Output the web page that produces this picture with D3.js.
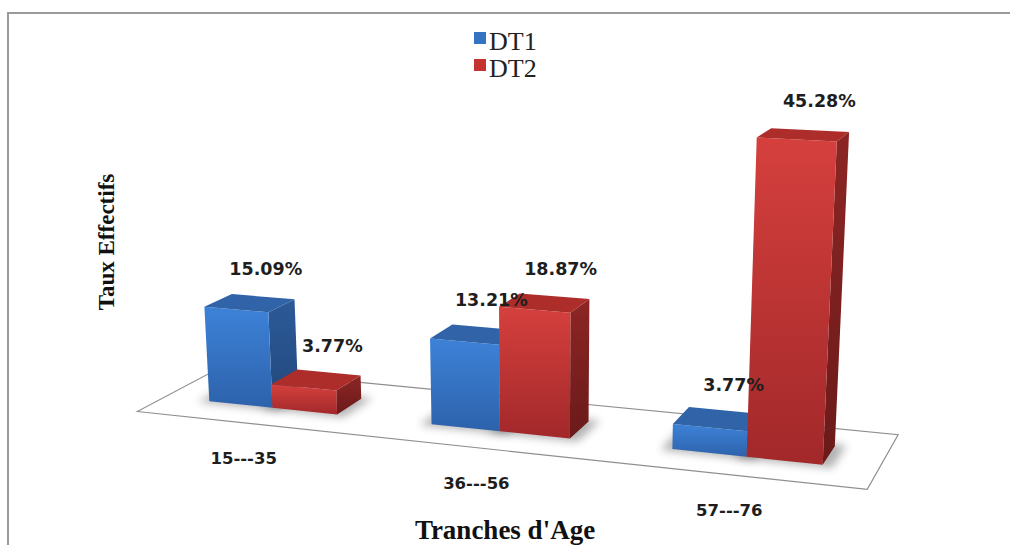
<!DOCTYPE html>
<html><head><meta charset="utf-8">
<script src="https://cdn.jsdelivr.net/npm/d3@7"></script>
<style>html,body{margin:0;padding:0;background:#fff;}svg{display:block;}</style>
</head><body>
<svg id="chart" width="1010" height="545"></svg>
<script>
// ---- data ----
const categories = ["15---35", "36---56", "57---76"];
const seriesNames = ["DT1", "DT2"];
const dt1 = [15.09, 13.21, 3.77];
const dt2 = [3.77, 18.87, 45.28];
const seriesValues = [dt1, dt2];

// ---- 3D view (perspective camera) ----
const cam = {f:1933.72, cx:544.97, cy:412.80, th:0.33156, ph:0.29306, Cx:150.823, Cz:-246.935, h:85.06};
const floorW = 111.692, floorD = 25.941, barW = 10.880, barD = 8.917;

function project(p){
  const [X,Y,Z] = p;
  const dX=X-cam.Cx, dY=Y-cam.h, dZ=Z-cam.Cz;
  const c=Math.cos(cam.th), s=Math.sin(cam.th);
  const a=dX*c+dZ*s, b=-dX*s+dZ*c;
  const cp=Math.cos(cam.ph), sp=Math.sin(cam.ph);
  const zc=b*cp-dY*sp, yc=dY*cp+b*sp;
  return [cam.cx+cam.f*a/zc, cam.cy-cam.f*yc/zc];
}

const svg = d3.select("#chart");
const defs = svg.append("defs");
const colors = {
  DT1:{front:["#3d82d8","#2d62ab"], side:["#2c5a98","#22487c"], top:"#3063a8", legend:"#3572c2"},
  DT2:{front:["#d5403d","#a2282a"], side:["#8c2624","#6a1a1a"], top:"#ad2d2b", legend:"#c43330"}
};
function grad(id, c0, c1){
  const g = defs.append("linearGradient").attr("id",id).attr("x1",0).attr("y1",0).attr("x2",0).attr("y2",1);
  g.append("stop").attr("offset","0%").attr("stop-color",c0);
  g.append("stop").attr("offset","100%").attr("stop-color",c1);
}
seriesNames.forEach(s=>{ grad("front-"+s, ...colors[s].front); grad("side-"+s, ...colors[s].side); });
defs.append("filter").attr("id","blur").attr("x","-50%").attr("y","-50%").attr("width","200%").attr("height","200%")
  .append("feGaussianBlur").attr("stdDeviation",4);

// scales
const xGroup = d3.scaleBand().domain(categories).range([0, floorW]);
const xSeries = d3.scaleBand().domain(seriesNames).range([-barW, barW]);
const yVal = d3.scaleLinear().domain([0, 50]).range([0, 50]);
const line = d3.line();
const poly = pts => line(pts.map(project)) + "Z";

// frame
svg.append("path").attr("d","M8,545 L8,13 L1010,13").attr("fill","none").attr("stroke","#9a9a9a").attr("stroke-width",2);

// floor
svg.append("path").attr("d", poly([[0,0,0],[floorW,0,0],[floorW,0,floorD],[0,0,floorD]]))
  .attr("fill","#fff").attr("stroke","#8f8f8f").attr("stroke-width",1.2);

// bars
const bars = [];
categories.forEach((cat,i)=>{
  seriesNames.forEach((s,j)=>{
    const x0 = xGroup(cat) + xGroup.bandwidth()/2 + xSeries(s);
    const x1 = x0 + xSeries.bandwidth();
    const z0 = (floorD - barD)/2, z1 = z0 + barD;
    bars.push({cat, s, v: seriesValues[j][i], x0, x1, z0, z1, y1: yVal(seriesValues[j][i])});
  });
});

// shadows
svg.append("g").selectAll("path").data(bars).join("path")
  .attr("d", b=>poly([[b.x0-1.5,0,b.z0-1],[b.x1+1.5,0,b.z0-1],[b.x1+1.5,0,b.z1+1],[b.x0-1.5,0,b.z1+1]]))
  .attr("fill","#555").attr("opacity",0.45).attr("filter","url(#blur)");

const gb = svg.append("g");
bars.forEach(b=>{
  const g = gb.append("g");
  g.append("path").attr("d", poly([[b.x1,0,b.z0],[b.x1,0,b.z1],[b.x1,b.y1,b.z1],[b.x1,b.y1,b.z0]]))
    .attr("fill","url(#side-"+b.s+")");
  g.append("path").attr("d", poly([[b.x0,0,b.z0],[b.x1,0,b.z0],[b.x1,b.y1,b.z0],[b.x0,b.y1,b.z0]]))
    .attr("fill","url(#front-"+b.s+")");
  g.append("path").attr("d", poly([[b.x0,b.y1,b.z0],[b.x1,b.y1,b.z0],[b.x1,b.y1,b.z1],[b.x0,b.y1,b.z1]]))
    .attr("fill",colors[b.s].top);
});

// data labels
const fmt = d3.format(".2f");
svg.append("g").selectAll("text").data(bars).join("text")
  .attr("x", b=>project([(b.x0+b.x1)/2, b.y1, (b.z0+b.z1)/2])[0] + 16)
  .attr("y", b=>project([(b.x0+b.x1)/2, b.y1, (b.z0+b.z1)/2])[1] - 28)
  .attr("text-anchor","middle")
  .attr("font-family","'DejaVu Sans', Verdana, sans-serif").attr("font-weight","bold").attr("font-size",17.5)
  .attr("fill","#1e1e1e")
  .text(b=>fmt(b.v)+"%");

// category labels
svg.append("g").selectAll("text").data(categories).join("text")
  .attr("x", c=>project([xGroup(c)+xGroup.bandwidth()/2,0,0])[0] - 3)
  .attr("y", c=>project([xGroup(c)+xGroup.bandwidth()/2,0,0])[1] + 41)
  .attr("text-anchor","middle")
  .attr("font-family","'DejaVu Sans', Verdana, sans-serif").attr("font-weight","bold").attr("font-size",16.5)
  .attr("fill","#1e1e1e")
  .text(c=>c);

// axis titles
svg.append("text").attr("x",505).attr("y",539).attr("text-anchor","middle")
  .attr("font-family","'Liberation Serif','Times New Roman',serif").attr("font-weight","bold").attr("font-size",27)
  .attr("fill","#111").text("Tranches d'Age");
svg.append("text").attr("transform","translate(114,242) rotate(-90)").attr("text-anchor","middle")
  .attr("font-family","'Liberation Serif','Times New Roman',serif").attr("font-weight","bold").attr("font-size",23)
  .attr("fill","#111").text("Taux Effectifs");

// legend
const lg = svg.append("g").selectAll("g").data(seriesNames).join("g")
  .attr("transform",(d,i)=>`translate(474,${32+i*27})`);
lg.append("rect").attr("width",12).attr("height",12).attr("fill",d=>colors[d].legend);
lg.append("text").attr("x",15).attr("y",18)
  .attr("font-family","'Liberation Serif','Times New Roman',serif").attr("font-size",26).attr("fill","#222")
  .text(d=>d);
</script>
</body></html>
